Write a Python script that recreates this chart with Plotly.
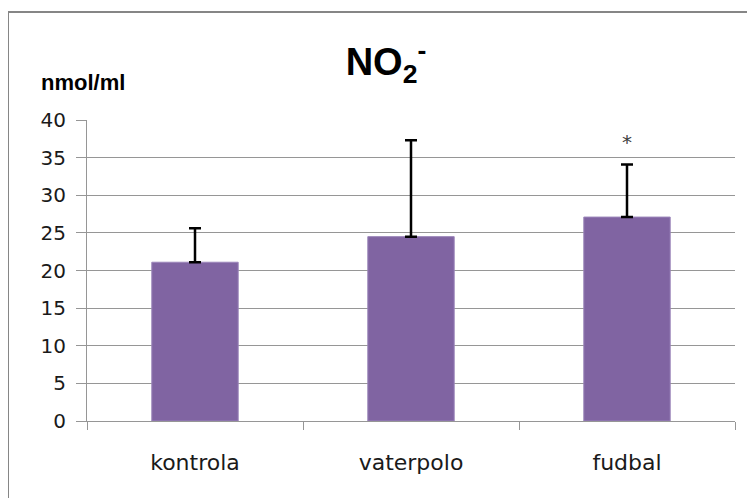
import plotly.graph_objects as go

categories = ["kontrola", "vaterpolo", "fudbal"]
means = [21.1, 24.5, 27.1]
err_plus = [4.5, 12.8, 7.0]
err_minus = [0, 0, 0]
y_ticks = [0, 5, 10, 15, 20, 25, 30, 35, 40]
star_cat = "fudbal"
star_y = 37.3

# page is shown with an 8px body margin, so the figure is placed at (8, 8)
OFF = 8
W, H = 755 - OFF, 498 - OFF
L, R, T, B = 87 - OFF, 20, 120 - OFF, 77
pw, ph = W - L - R, H - T - B

def px_x(p):  # page pixel -> paper x
    return (p - OFF - L) / pw

def px_y(p):  # page pixel -> paper y
    return (H - B - (p - OFF)) / ph

GRID = "#969696"
FONT = "DejaVu Sans"

fig = go.Figure()
fig.add_trace(go.Bar(
    x=categories, y=means, width=0.4,
    marker=dict(color="#8064A2", line=dict(color="#9B85BA", width=1)),
    error_y=dict(type="data", symmetric=False, array=err_plus, arrayminus=err_minus,
                 color="black", thickness=2.5, width=6),
))

fig.add_annotation(x=star_cat, y=star_y, text="*", showarrow=False,
                   font=dict(family=FONT, size=20, color="#404040"), yshift=-2)

fig.add_annotation(xref="paper", yref="paper", x=px_x(39), y=px_y(82),
                   xanchor="left", yanchor="middle", text="<b>nmol/ml</b>", showarrow=False,
                   font=dict(family="Liberation Sans", size=22, color="black"))

fig.add_shape(type="line", xref="paper", yref="paper",
              x0=px_x(8), x1=px_x(8), y0=px_y(12), y1=px_y(520),
              line=dict(color="#868686", width=2))
fig.add_shape(type="line", xref="paper", yref="paper",
              x0=px_x(8), x1=px_x(780), y0=px_y(12), y1=px_y(12),
              line=dict(color="#868686", width=2))

fig.update_layout(
    width=W, height=H,
    margin=dict(l=L, r=R, t=T, b=B),
    paper_bgcolor="white", plot_bgcolor="white",
    showlegend=False,
    title=dict(text="<b>NO<sub>2</sub><sup>-</sup></b>", x=(386 - OFF) / W, xanchor="center",
               y=1 - (62 - OFF) / H, yanchor="middle",
               font=dict(family="Liberation Sans", size=38, color="black")),
    font=dict(family=FONT, size=20, color="#1a1a1a"),
)
fig.update_yaxes(range=[0, 40], tickvals=y_ticks, showgrid=True, gridcolor=GRID, gridwidth=1,
                 showline=True, linecolor=GRID, linewidth=1, ticks="outside", ticklen=10,
                 tickcolor=GRID, zeroline=False, tickfont=dict(family=FONT, size=20, color="#1a1a1a"),
                 ticklabelstandoff=6)
fig.update_xaxes(showline=True, linecolor=GRID, linewidth=1, ticks="outside", ticklen=8,
                 tickcolor=GRID, tickson="boundaries", showgrid=False,
                 tickfont=dict(family=FONT, size=22, color="#1a1a1a"), ticklabelstandoff=22)

fig.write_html("out.html")
